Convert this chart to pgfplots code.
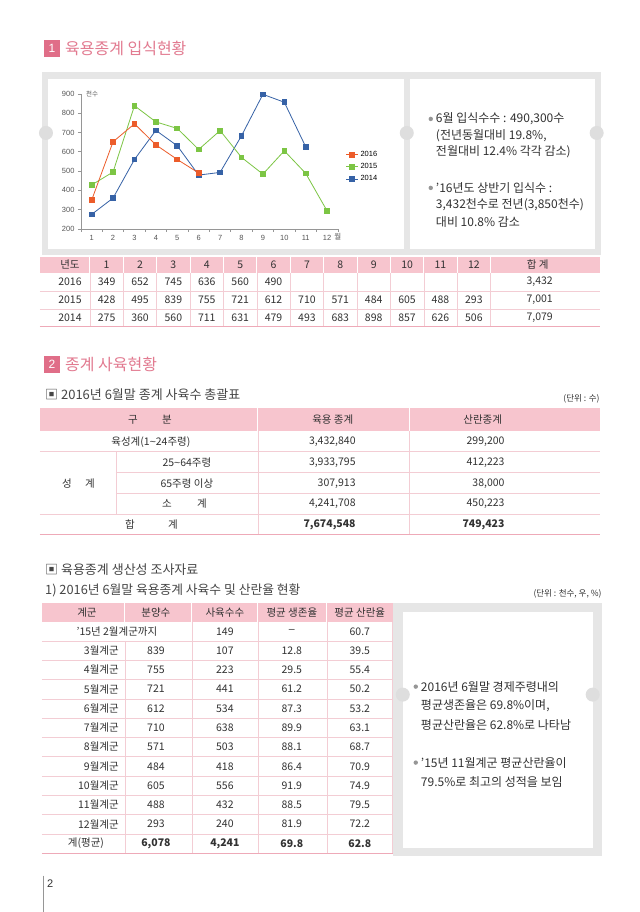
\documentclass[border=0pt]{standalone}
\usepackage{pgfplots}
\pgfplotsset{compat=1.18}
\usepackage{fontspec}
\setmainfont{Noto Sans CJK KR}
\newfontfamily\lat{Liberation Sans}
\definecolor{pinkhead}{RGB}{247,197,206}
\definecolor{pinktitle}{RGB}{226,122,144}
\definecolor{pinkbox}{RGB}{224,110,136}
\definecolor{pinkline}{RGB}{243,205,212}
\definecolor{pinkbot}{RGB}{238,170,184}
\definecolor{panel}{RGB}{230,230,230}
\definecolor{notch}{RGB}{222,222,222}
\definecolor{txt}{RGB}{50,50,50}
\definecolor{ticktxt}{RGB}{85,85,85}
\definecolor{bulletgray}{RGB}{150,150,150}
\definecolor{c16}{RGB}{236,92,42}
\definecolor{c15}{RGB}{124,197,68}
\definecolor{c14}{RGB}{54,98,166}
\definecolor{axgray}{RGB}{150,150,150}
\newcommand{\fs}[1]{\fontsize{#1}{#1}\selectfont}
\newcommand{\tl}{{\lat\textasciitilde}}
\tikzset{tx/.style={inner sep=0pt,text=txt}}
\begin{document}
\begin{tikzpicture}[x=1pt,y=-1pt]
\fill[white] (0,0) rectangle (640,912);

% ===== Section 1 heading
\fill[pinkbox] (44,40) rectangle (60,57);
\node[tx,text=white,font=\lat\fs{12}] at (52,48.5) {1};
\node[tx,anchor=west,text=pinktitle,font=\fs{16}] at (65,48.5) {육용종계 입식현황};

% panel 1
\fill[panel] (42,72) rectangle (601,255);
\fill[white] (48,79) rectangle (404,249);
\fill[white] (410,79) rectangle (595,249);
\foreach \cx in {46,407,597} \fill[notch] (\cx,133) circle[radius=7pt];

% bullets card 1
\foreach \yy in {119,188} \fill[bulletgray] (431,\yy) circle[radius=2.2pt];
\begin{scope}[every node/.style={tx,anchor=west,font=\fs{12}}]
\node at (436,119) {6월 입식수수 : 490,300수};
\node at (436,136) {(전년동월대비 19.8\%,};
\node at (436,152) {전월대비 12.4\% 각각 감소)};
\node at (436,188) {'16년도 상반기 입식수 :};
\node at (436,205) {3,432천수로 전년(3,850천수)};
\node at (436,222) {대비 10.8\% 감소};
\end{scope}

% ===== chart
\begin{scope}[x=1cm,y=1cm]
\begin{axis}[at={(81pt,-229pt)}, anchor=south west, scale only axis,
  width=257pt, height=135pt, xmin=0.5, xmax=12.5, ymin=200, ymax=900,
  axis x line*=bottom, axis y line*=left,
  axis line style={draw=axgray, line width=0.6pt},
  xtick={1,...,12}, ytick={200,300,...,900},
  minor xtick={0.5,1.5,...,12.5},
  major x tick style={draw=none},
  tick style={draw=axgray, line width=0.6pt},
  tick align=outside, major tick length=3pt, minor tick length=3pt,
  tick label style={font=\lat\fs{7.5}, text=ticktxt},
  /pgf/number format/assume math mode=true,
  /pgf/number format/1000 sep={},
  clip=false,
  legend style={at={(1.03,0.46)}, anchor=west, draw=none, fill=none,
    font=\lat\fs{7.5}, row sep=1.5pt, inner sep=0pt,
    /tikz/every even column/.append style={column sep=2pt}},
  legend cell align=left, reverse legend,
  legend image code/.code={\draw[mark repeat=2,mark phase=2,#1] plot coordinates {(0pt,0pt)(6pt,0pt)(12pt,0pt)};},
  every axis plot/.append style={line width=0.8pt, mark=square*, mark size=2.4pt, mark options={solid}},
]
\addplot[c14, mark options={fill=c14}] coordinates {(1,275)(2,360)(3,560)(4,711)(5,631)(6,479)(7,493)(8,683)(9,898)(10,857)(11,626)};
\addlegendentry{2014}
\addplot[c15, mark options={fill=c15}] coordinates {(1,428)(2,495)(3,839)(4,755)(5,721)(6,612)(7,710)(8,571)(9,484)(10,605)(11,488)(12,293)};
\addlegendentry{2015}
\addplot[c16, mark options={fill=c16}] coordinates {(1,349)(2,652)(3,745)(4,636)(5,560)(6,490)};
\addlegendentry{2016}
\node[inner sep=0pt,anchor=west,font=\fs{6.5},text=ticktxt,xshift=5pt] at (axis cs:0.5,900) {천수};
\node[inner sep=0pt,font=\fs{7.5},text=ticktxt,yshift=-8pt] at (axis cs:12.5,200) {월};
\end{axis}
\end{scope}

% ===== Table 1
\fill[pinkhead] (40,257) rectangle (600,273);
\foreach \b in {90,123.4,156.8,190.2,223.6,257,290.4,323.8,357.2,390.6,424,457.4,490.8} {
  \draw[white,line width=1pt] (\b,257) -- (\b,273);
  \draw[pinkline,line width=0.5pt] (\b,273) -- (\b,327);
}
\foreach \yy in {291,309} \draw[pinkline,line width=0.6pt] (40,\yy) -- (600,\yy);
\draw[pinkbot,line width=0.8pt] (40,327) -- (600,327);
\begin{scope}[every node/.style={tx,font=\fs{10.5}}]
\node at (70,265) {년도};
\foreach \m in {1,...,12} \node at ({90+33.4*(\m-0.5)},265) {\m};
\node at (538,265) {합 계};
\node at (70,282) {2016};
\foreach \v [count=\i] in {349,652,745,636,560,490} \node at ({90+33.4*(\i-0.5)},282) {\v};
\node at (540,282) {3,432};
\node at (70,300) {2015};
\foreach \v [count=\i] in {428,495,839,755,721,612,710,571,484,605,488,293} \node at ({90+33.4*(\i-0.5)},300) {\v};
\node at (540,300) {7,001};
\node at (70,318) {2014};
\foreach \v [count=\i] in {275,360,560,711,631,479,493,683,898,857,626,506} \node at ({90+33.4*(\i-0.5)},318) {\v};
\node at (540,318) {7,079};
\end{scope}

% ===== Section 2 heading
\fill[pinkbox] (44,356) rectangle (60,373);
\node[tx,text=white,font=\lat\fs{12}] at (52,364.5) {2};
\node[tx,anchor=west,text=pinktitle,font=\fs{16}] at (65,364.5) {종계 사육현황};

\node[tx,anchor=west,font=\fs{13},text={rgb,255:red,70;green,70;blue,70}] at (45,395) {▣ 2016년 6월말 종계 사육수 총괄표};
\node[tx,anchor=east,font=\fs{8.5}] at (600,399) {(단위 : 수)};

% ===== Table 2
\fill[pinkhead] (40,408) rectangle (600,431);
\foreach \b in {258,410} {
  \draw[white,line width=1pt] (\b,408) -- (\b,431);
  \draw[pinkline,line width=0.6pt] (\b,431) -- (\b,535);
}
\draw[pinkline,line width=0.6pt] (116,452) -- (116,514.5);
\draw[pinkline,line width=0.6pt] (40,452) -- (600,452);
\draw[pinkline,line width=0.6pt] (116,473) -- (600,473);
\draw[pinkline,line width=0.6pt] (116,494) -- (600,494);
\draw[pinkline,line width=0.6pt] (40,514.5) -- (600,514.5);
\draw[pinkbot,line width=1.2pt] (40,535) -- (600,535);
\begin{scope}[every node/.style={tx,font=\fs{10.5}}]
\node at (133,420) {구}; \node at (167,420) {분};
\node at (333,420) {육용 종계};
\node at (483,420) {산란종계};
\node at (151,442) {육성계(1\tl24주령)};
\node[anchor=east] at (356,442) {3,432,840};
\node[anchor=east] at (505,442) {299,200};
\node at (67,483.5) {성}; \node at (90,483.5) {계};
\node at (187,463) {25\tl64주령};
\node[anchor=east] at (356,463) {3,933,795};
\node[anchor=east] at (505,463) {412,223};
\node at (187,483.5) {65주령 이상};
\node[anchor=east] at (356,483.5) {307,913};
\node[anchor=east] at (505,483.5) {38,000};
\node at (167,504) {소}; \node at (202,504) {계};
\node[anchor=east] at (356,504) {4,241,708};
\node[anchor=east] at (505,504) {450,223};
\node at (130,525) {합}; \node at (173,525) {계};
\node[anchor=east,font=\fs{10.5}\bfseries] at (356,525) {7,674,548};
\node[anchor=east,font=\fs{10.5}\bfseries] at (505,525) {749,423};
\end{scope}

% ===== Section productivity
\node[tx,anchor=west,font=\fs{13},text={rgb,255:red,70;green,70;blue,70}] at (45,570) {▣ 육용종계 생산성 조사자료};
\node[tx,anchor=west,font=\fs{12.8},text={rgb,255:red,70;green,70;blue,70}] at (45,591) {1) 2016년 6월말 육용종계 사육수 및 산란율 현황};
\node[tx,anchor=east,font=\fs{8.5}] at (602,594) {(단위 : 천수, 우, \%)};

% panel 3
\fill[panel] (393,603) rectangle (602,856);
\fill[white] (403,612) rectangle (593,848);
\foreach \cx in {403,593} \fill[notch] (\cx,695) circle[radius=7pt];
\foreach \yy in {687,763} \fill[bulletgray] (416,\yy) circle[radius=2.2pt];
\begin{scope}[every node/.style={tx,anchor=west,font=\fs{12}}]
\node at (421,687) {2016년 6월말 경제주령내의};
\node at (421,706) {평균생존율은 69.8\%이며,};
\node at (421,725) {평균산란율은 62.8\%로 나타남};
\node at (421,763) {'15년 11월계군 평균산란율이};
\node at (421,782) {79.5\%로 최고의 성적을 보임};
\end{scope}

% ===== Table 3
\fill[pinkhead] (42,603) rectangle (393,622);
\foreach \b in {125,192,258,327} \draw[white,line width=1pt] (\b,603) -- (\b,622);
\foreach \b in {192,258,327,393} \draw[pinkline,line width=0.6pt] (\b,622) -- (\b,853.6);
\draw[pinkline,line width=0.6pt] (125,641.3) -- (125,853.6);
\foreach \i in {1,...,11} \draw[pinkline,line width=0.6pt] (42,{622+19.3*\i}) -- (393,{622+19.3*\i});
\draw[pinkbot,line width=1.2pt] (42,853.6) -- (393,853.6);
\begin{scope}[every node/.style={tx,font=\fs{10.5}}]
\node at (87,612.5) {계군};
\node at (156,612.5) {분양수};
\node at (225,612.5) {사육수수};
\node at (292,612.5) {평균 생존율};
\node at (360,612.5) {평균 산란율};
\node at (117,631.7) {'15년 2월계군까지};
\node at (225,631.7) {149};
\node at (292,631.7) {{\lat –}};
\node at (360,631.7) {60.7};
\foreach \lab/\a/\b/\c/\d [count=\i] in {3월계군/839/107/12.8/39.5,4월계군/755/223/29.5/55.4,5월계군/721/441/61.2/50.2,6월계군/612/534/87.3/53.2,7월계군/710/638/89.9/63.1,8월계군/571/503/88.1/68.7,9월계군/484/418/86.4/70.9,10월계군/605/556/91.9/74.9,11월계군/488/432/88.5/79.5,12월계군/293/240/81.9/72.2} {
  \node[anchor=east] at (119,{622+19.3*(\i+0.5)}) {\lab};
  \node at (156,{622+19.3*(\i+0.5)}) {\a};
  \node at (225,{622+19.3*(\i+0.5)}) {\b};
  \node at (292,{622+19.3*(\i+0.5)}) {\c};
  \node at (360,{622+19.3*(\i+0.5)}) {\d};
}
\node at (86,844) {계(평균)};
\node[font=\fs{10.5}\bfseries] at (156,844) {6,078};
\node[font=\fs{10.5}\bfseries] at (225,844) {4,241};
\node[font=\fs{10.5}\bfseries] at (292,844) {69.8};
\node[font=\fs{10.5}\bfseries] at (360,844) {62.8};
\end{scope}

% page number
\draw[axgray,line width=1pt] (43.5,876) -- (43.5,912);
\node[tx,anchor=west,font=\lat\fs{11}] at (47,884) {2};
\end{tikzpicture}
\end{document}
